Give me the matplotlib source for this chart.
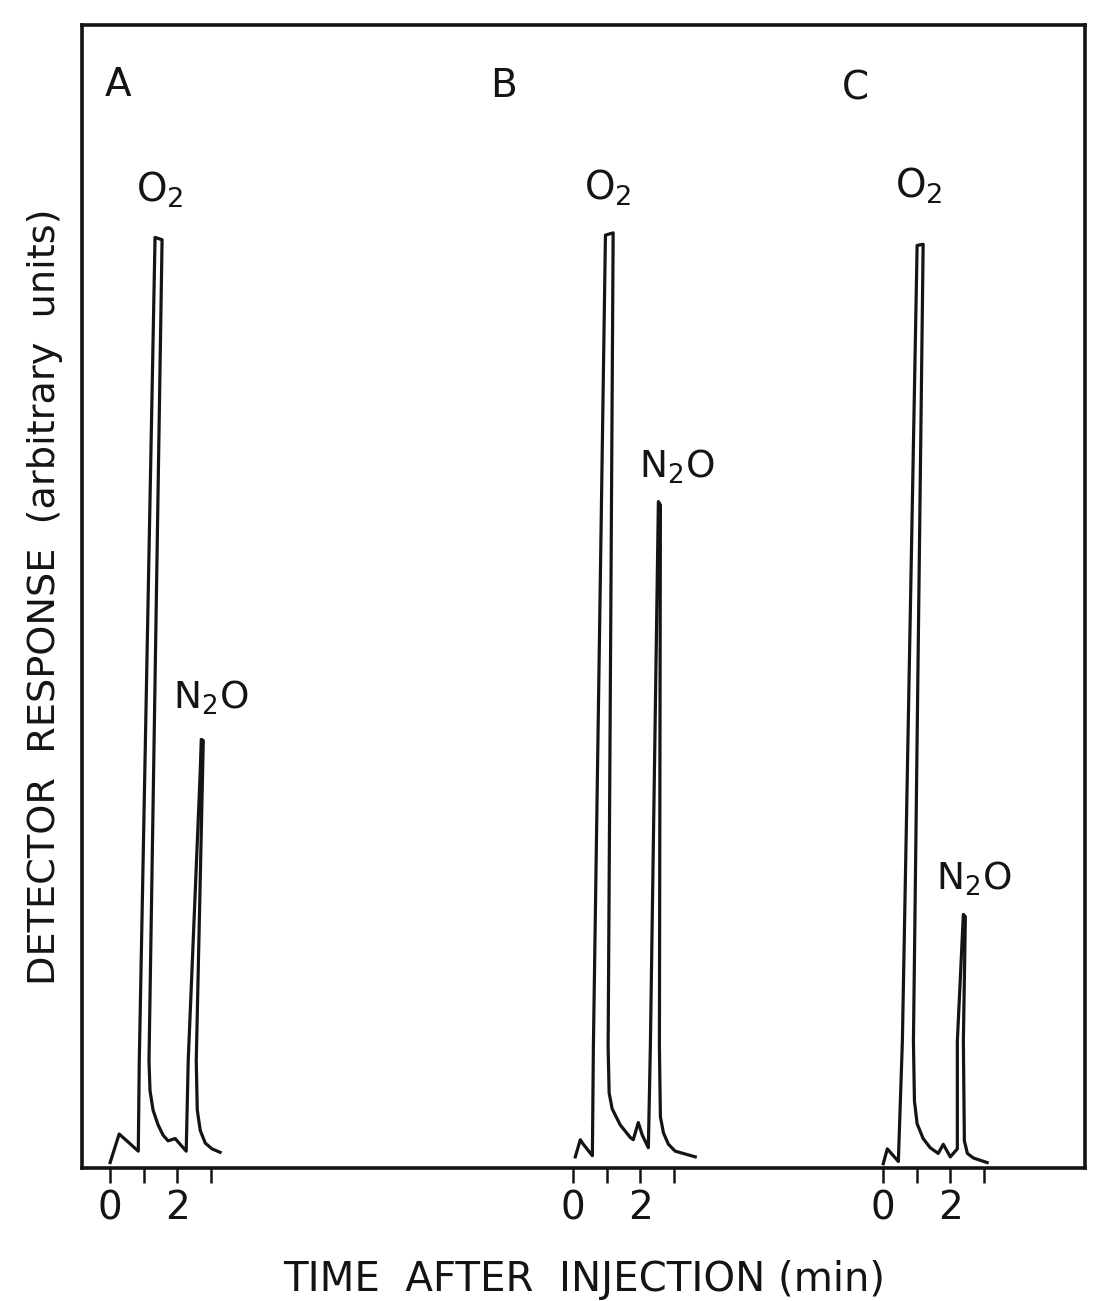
import numpy as np
import matplotlib.pyplot as plt

plt.rcParams['font.family'] = 'DejaVu Sans'
plt.rcParams['mathtext.default'] = 'regular'

# chromatogram traces: time after injection (min), detector response (arb. units)
t_A = [0.00, 0.27, 0.84, 0.87, 1.34, 1.55, 1.16, 1.19, 1.28, 1.43, 1.58, 1.73,
       1.94, 2.27, 2.33, 2.69, 2.72, 2.78, 2.57, 2.60, 2.69, 2.84, 3.04, 3.28]
r_A = [0.5, 3.0, 1.5, 9.4, 81.4, 81.2, 9.4, 6.8, 5.1, 3.8, 2.9, 2.4,
       2.6, 1.5, 9.4, 34.8, 37.5, 37.4, 9.4, 5.1, 3.3, 2.2, 1.7, 1.4]

t_B = [0.06, 0.21, 0.30, 0.57, 0.60, 0.96, 1.19, 1.04, 1.07, 1.16, 1.40, 1.70,
       1.79, 1.94, 2.06, 2.24, 2.30, 2.54, 2.60, 2.57, 2.60, 2.69, 2.84, 3.04,
       3.64]
r_B = [1.0, 2.5, 2.1, 1.1, 10.6, 81.6, 81.8, 10.6, 6.6, 5.2, 3.8, 2.7,
       2.5, 4.0, 2.9, 1.8, 10.6, 58.3, 58.0, 10.6, 4.5, 3.1, 2.1, 1.5,
       1.0]

t_C = [0.00, 0.12, 0.45, 0.57, 1.01, 1.19, 0.90, 0.93, 1.01, 1.19, 1.40, 1.64,
       1.79, 2.00, 2.21, 2.21, 2.39, 2.45, 2.39, 2.42, 2.51, 2.69, 3.10]
r_C = [0.4, 1.7, 0.6, 11.1, 80.7, 80.8, 11.1, 5.9, 3.9, 2.6, 1.8, 1.3,
       2.1, 1.0, 1.7, 11.1, 22.2, 22.0, 11.1, 2.4, 1.3, 0.9, 0.5]

panels = ['A', 'B', 'C']
offsets = [0.84, 14.66, 23.91]   # where each run's t=0 sits along the strip
tick_min = [0, 1, 2, 3]
tick_txt = ['0', '', '2', '']

# peak labels (t, response) per panel
o2_pos = [(1.49, 85.6), (1.04, 85.7), (1.05, 85.9)]
n2o_pos = [(2.99, 41.1), (3.10, 61.3), (2.69, 25.3)]
letter_pos = [(0.24, 94.7), (-2.09, 94.6), (-0.84, 94.4)]

ink = '#141414'
fig = plt.figure(figsize=(10.93, 13.01), dpi=100)
ax = fig.add_axes([0.075, 0.102, 0.918, 0.879])

traces = [(t_A, r_A), (t_B, r_B), (t_C, r_C)]
ticks, labels = [], []
for i, (t, r) in enumerate(traces):
    off = offsets[i]
    ax.plot(np.array(t) + off, r, color=ink, lw=2.3, solid_joinstyle='round')
    ticks += [off + m for m in tick_min]
    labels += tick_txt
    ax.text(off + o2_pos[i][0], o2_pos[i][1], 'O$_2$', fontsize=28,
            ha='center', va='center', color=ink)
    ax.text(off + n2o_pos[i][0], n2o_pos[i][1], 'N$_2$O', fontsize=27,
            ha='center', va='center', color=ink)
    ax.text(off + letter_pos[i][0], letter_pos[i][1], panels[i], fontsize=28,
            ha='center', va='center', color=ink)

ax.set_xlim(0, 29.94)
ax.set_ylim(0, 100)
ax.set_xticks(ticks)
ax.set_xticklabels(labels, fontsize=28, color=ink)
ax.tick_params(axis='x', direction='out', length=11, width=1.8, pad=4, color=ink)
ax.set_yticks([])
for s in ax.spines.values():
    s.set_linewidth(2.6)
    s.set_color(ink)

ax.set_xlabel('TIME  AFTER  INJECTION (min)', fontsize=29, color=ink, labelpad=24)
ax.set_ylabel('DETECTOR  RESPONSE  (arbitrary  units)', fontsize=27.5, color=ink,
              labelpad=14)

fig.savefig('out.png', dpi=100)
